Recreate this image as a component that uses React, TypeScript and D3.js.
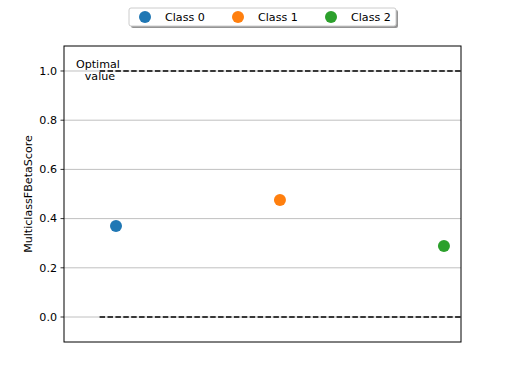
import React from "react";
import * as d3 from "d3";

const classes = ["Class 0", "Class 1", "Class 2"];
const scores = [0.37, 0.476, 0.289];
const colors = ["#1f77b4", "#ff7f0e", "#2ca02c"];
const yTicks = [0.0, 0.2, 0.4, 0.6, 0.8, 1.0];
const refLines = [0.0, 1.0];

export default function App() {
  const W = 512, H = 384;
  const left = 64, right = 461, top = 46, bottom = 342;
  const x = d3.scaleLinear().domain([-0.317, 2.104]).range([left, right]);
  const y = d3.scaleLinear().domain([-0.1016, 1.1016]).range([bottom, top]);
  const font = "DejaVu Sans, sans-serif";
  const fs = 11.1;
  const legendX = [145, 238, 331];
  return (
    <svg width={W} height={H} style={{ position: "absolute", left: 0, top: 0 }} fontFamily={font}>
      <rect x={0} y={0} width={W} height={H} fill="#fff" />
      {yTicks.map((t) => (
        <g key={t}>
          <line x1={left} x2={right} y1={y(t)} y2={y(t)} stroke="#b0b0b0" strokeWidth={0.8} />
          <line x1={left - 3.5} x2={left} y1={y(t)} y2={y(t)} stroke="#000" strokeWidth={0.8} />
          <text x={left - 7} y={y(t)} dy="0.35em" textAnchor="end" fontSize={fs}>{t.toFixed(1)}</text>
        </g>
      ))}
      {refLines.map((v) => (
        <line key={v} x1={x(-0.1)} x2={right} y1={y(v)} y2={y(v)} stroke="#000" strokeWidth={1.5} strokeDasharray="5.5,2.4" />
      ))}
      <text x={x(-0.11)} y={y(1.0) - 3} textAnchor="middle" fontSize={fs}>Optimal</text>
      <text x={x(-0.11) + 2} y={y(1.0) + 9} textAnchor="middle" fontSize={fs}>value</text>
      {scores.map((s, i) => (
        <circle key={i} cx={x(i)} cy={y(s)} r={6} fill={colors[i]} />
      ))}
      <rect x={left} y={top} width={right - left} height={bottom - top} fill="none" stroke="#000" strokeWidth={1} />
      <text transform={`translate(32,${(top + bottom) / 2}) rotate(-90)`} textAnchor="middle" fontSize={fs}>MulticlassFBetaScore</text>
      <rect x={131} y={10} width={267} height={18} fill="#888" opacity={0.9} rx={2} />
      <rect x={129} y={8} width={267} height={18} fill="#fff" stroke="#ccc" strokeWidth={1} rx={2} />
      {classes.map((c, i) => (
        <g key={c}>
          <circle cx={legendX[i]} cy={17} r={6} fill={colors[i]} />
          <text x={legendX[i] + 20} y={17} dy="0.35em" fontSize={fs}>{c}</text>
        </g>
      ))}
    </svg>
  );
}
